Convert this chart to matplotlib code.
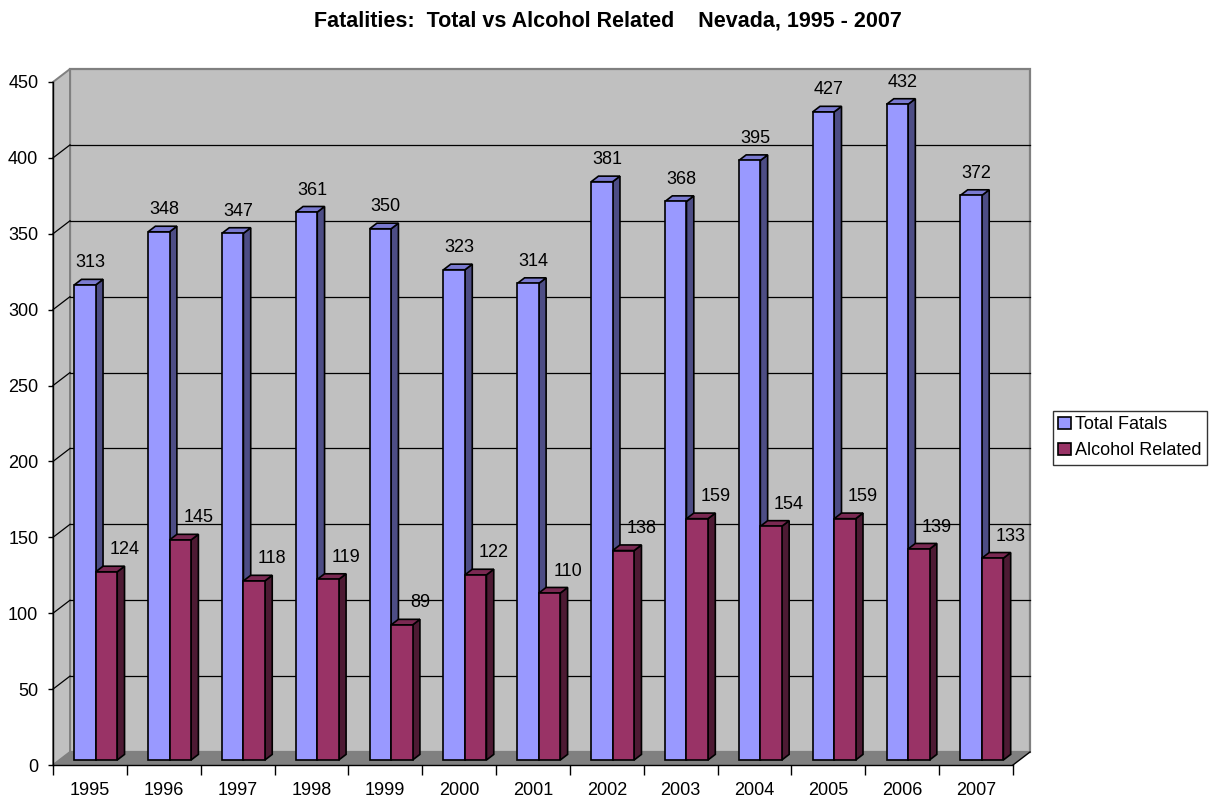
import matplotlib
matplotlib.use("Agg")
import matplotlib.pyplot as plt
from matplotlib.patches import Polygon, Patch

plt.rcParams['font.family'] = ['Liberation Sans', 'DejaVu Sans']

years = ['1995', '1996', '1997', '1998', '1999', '2000', '2001',
         '2002', '2003', '2004', '2005', '2006', '2007']
total_fatals = [313, 348, 347, 361, 350, 323, 314, 381, 368, 395, 427, 432, 372]
alcohol_related = [124, 145, 118, 119, 89, 122, 110, 138, 159, 154, 159, 139, 133]
series_names = ['Total Fatals', 'Alcohol Related']
yticks = list(range(0, 451, 50))

# colours (front, side, top)
BLUE = ('#9999FF', '#4D4D85', '#7A7AD0')
RED = ('#993366', '#4D1A33', '#7A2952')

FS = 13

W, H = 1215, 801
fig = plt.figure(figsize=(W / 100, H / 100), dpi=100)

n = len(years)
ymax = 450
# pixel geometry of the front plane
CW = 960 / n          # px per category
VS = 683 / ymax       # px per value unit
DX = 17 / CW          # wall depth in data units
DY = 13 / VS
F = 5 / 13            # depth of bar front plane
B = 0.43              # bar depth fraction
BW = 21.5 / CW        # bar width

left_px, bottom_px = 53, 765
ax = fig.add_axes([left_px / W, (H - bottom_px) / H,
                   (n + DX) * CW / W, (ymax + DY) * VS / H])
ax.set_xlim(0, n + DX)
ax.set_ylim(0, ymax + DY)
ax.patch.set_visible(False)

WALL = '#C0C0C0'
FLOOR = '#808080'
EDGE = '#808080'

# back wall
ax.add_patch(Polygon([(DX, DY), (n + DX, DY), (n + DX, ymax + DY), (DX, ymax + DY)],
                     closed=True, facecolor=WALL, edgecolor=EDGE, lw=1.6, zorder=0.5, clip_on=False))
# side wall
ax.add_patch(Polygon([(0, 0), (DX, DY), (DX, ymax + DY), (0, ymax)],
                     closed=True, facecolor=WALL, edgecolor=EDGE, lw=1.4, zorder=0.6, clip_on=False))
# floor
ax.add_patch(Polygon([(0, 0), (n, 0), (n + DX, DY), (DX, DY)],
                     closed=True, facecolor=FLOOR, edgecolor='none', zorder=0.7, clip_on=False))
ax.plot([n, n + DX], [0, DY], color='black', lw=1.0, zorder=0.8, clip_on=False)

# gridlines
for v in yticks[1:-1]:
    ax.plot([DX, n + DX], [v + DY, v + DY], color='black', lw=0.9, zorder=0.9, clip_on=False)
    ax.plot([0, DX], [v, v + DY], color='black', lw=0.9, zorder=0.9, clip_on=False)


def draw_bar(x0, val, cols):
    fx, fy = F * DX, F * DY
    bx, by = B * DX, B * DY
    xl, xr = x0 + fx, x0 + fx + BW
    yb, yt = fy, fy + val
    front = [(xl, yb), (xr, yb), (xr, yt), (xl, yt)]
    side = [(xr, yb), (xr + bx, yb + by), (xr + bx, yt + by), (xr, yt)]
    top = [(xl, yt), (xr, yt), (xr + bx, yt + by), (xl + bx, yt + by)]
    for poly, c in ((side, cols[1]), (top, cols[2]), (front, cols[0])):
        ax.add_patch(Polygon(poly, closed=True, facecolor=c, edgecolor='black',
                             lw=1.2, joinstyle='miter', zorder=3, clip_on=False))
    return (xl + xr) / 2, yt


for i in range(n):
    c = i + 0.5 - 0.01
    bxc, byt = draw_bar(c - BW, total_fatals[i], BLUE)
    ax.annotate(str(total_fatals[i]), (bxc, byt), xytext=(5.5 * 0.72, 22 * 0.72),
                textcoords='offset points', ha='center', va='center', fontsize=FS, zorder=5)
    rxc, ryt = draw_bar(c, alcohol_related[i], RED)
    ax.annotate(str(alcohol_related[i]), (rxc, ryt), xytext=(18 * 0.72, 22 * 0.72),
                textcoords='offset points', ha='center', va='center', fontsize=FS, zorder=5)

# axes
for s in ('top', 'right'):
    ax.spines[s].set_visible(False)
ax.spines['left'].set_bounds(0, ymax)
ax.spines['bottom'].set_bounds(0, n)
ax.spines['left'].set_linewidth(1.0)
ax.spines['bottom'].set_linewidth(1.0)
ax.spines['left'].set_zorder(2)
ax.spines['bottom'].set_zorder(2)

ax.set_yticks(yticks)
ax.set_yticklabels([str(v) for v in yticks])
ax.tick_params(axis='y', direction='out', length=3.6, width=1.0, pad=7, labelsize=FS)

ax.set_xticks(range(n + 1))
ax.set_xticklabels([])
ax.set_xticks([i + 0.5 for i in range(n)], minor=True)
ax.set_xticklabels(years, minor=True)
ax.tick_params(axis='x', which='major', direction='out', length=7.2, width=1.0)
ax.tick_params(axis='x', which='minor', length=0, pad=12.5, labelsize=FS)

fig.text(608 / W, 1 - 21 / H,
         'Fatalities:  Total vs Alcohol Related    Nevada, 1995 - 2007',
         ha='center', va='center', fontsize=15.5, fontweight='bold')

handles = [Patch(facecolor=BLUE[0], edgecolor='black', lw=1.2),
           Patch(facecolor=RED[0], edgecolor='black', lw=1.2)]
leg = fig.legend(handles, series_names, loc='upper left',
                 bbox_to_anchor=(1053 / W, 1 - 411 / H), borderaxespad=0,
                 fontsize=FS, frameon=True, fancybox=False, shadow=False,
                 handlelength=0.68, handleheight=0.68, handletextpad=0.25,
                 labelspacing=0.5, borderpad=0.3)
leg.get_frame().set_edgecolor('black')
leg.get_frame().set_linewidth(1.0)

fig.savefig('out.png', dpi=100)
